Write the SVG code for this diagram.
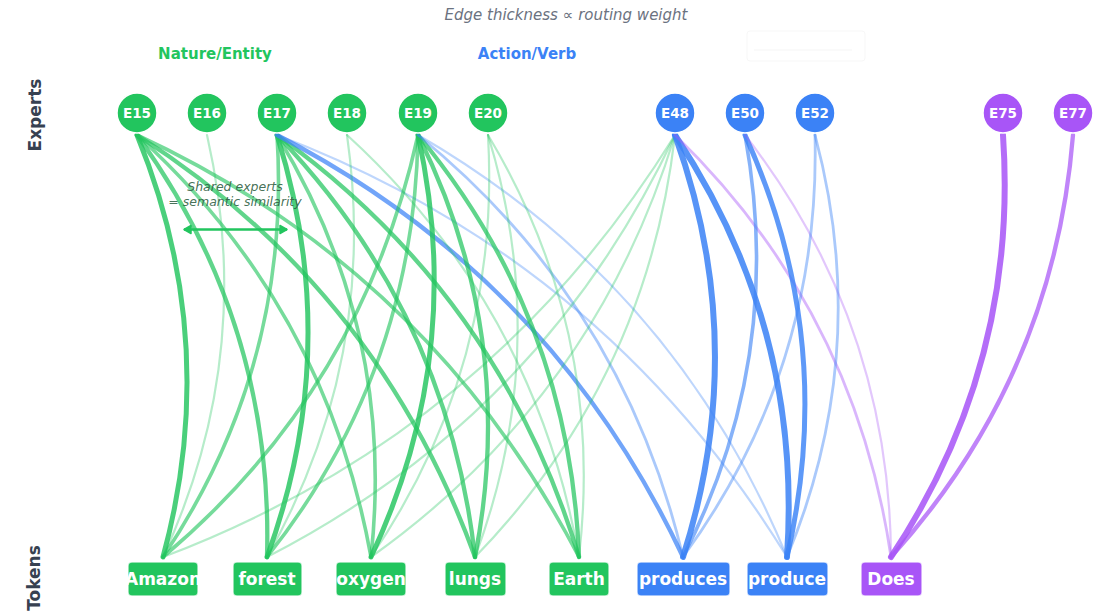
<svg xmlns="http://www.w3.org/2000/svg" width="1097" height="615" viewBox="0 0 1097 615">
  <defs>
    <style>
      .title { font-family: "DejaVu Sans", "Liberation Sans", sans-serif; font-style: italic; font-size: 15px; fill: #6b7280; }
      .group { font-family: "DejaVu Sans", "Liberation Sans", sans-serif; font-weight: bold; font-size: 15px; }
      .axis { font-family: "DejaVu Sans", "Liberation Sans", sans-serif; font-weight: bold; font-size: 17px; fill: #374151; }
      .note { font-family: "DejaVu Sans", "Liberation Sans", sans-serif; font-style: italic; font-size: 12.5px; fill: #2f5f44; fill-opacity: 0.9; }
      .enode circle { stroke: #ffffff; stroke-width: 1.5; }
      .enode text { font-family: "DejaVu Sans", "Liberation Sans", sans-serif; font-weight: bold; font-size: 13.5px; fill: #ffffff; text-anchor: middle; }
      .tnode rect { stroke: #ffffff; stroke-opacity: 0.7; stroke-width: 1.5; }
      .tnode text { font-family: "DejaVu Sans", "Liberation Sans", sans-serif; font-weight: bold; font-size: 17px; fill: #ffffff; text-anchor: middle; }
      .green { fill: #22c55e; }
      .blue { fill: #3b82f6; }
      .purple { fill: #a855f7; }
      #edges path { fill: none; stroke-linecap: round; }
      .eg { stroke: #22c55e; }
      .eb { stroke: #3b82f6; }
      .ep { stroke: #a855f7; }
      .w1 { stroke-width: 2.2; stroke-opacity: 0.33; }
      .w2 { stroke-width: 2.8; stroke-opacity: 0.43; }
      .w3 { stroke-width: 3.6; stroke-opacity: 0.62; }
      .w4 { stroke-width: 4.3; stroke-opacity: 0.72; }
      .w5 { stroke-width: 5; stroke-opacity: 0.82; }
      .w6 { stroke-width: 6; stroke-opacity: 0.86; }
    </style>
    <marker id="tip" viewBox="-10 -6 12 12" markerWidth="12" markerHeight="12" refX="0" refY="0" orient="auto-start-reverse" markerUnits="userSpaceOnUse">
      <path d="M-7,-4 L0,0 L-7,4 Z" fill="#22c55e" stroke="#22c55e" stroke-width="1.5" stroke-linejoin="round"/>
    </marker>
  </defs>

  <rect width="1097" height="615" fill="#ffffff"/>

  <!-- headings -->
  <text class="title" x="566" y="20" text-anchor="middle">Edge thickness ∝ routing weight</text>
  <text class="group" x="215" y="59" text-anchor="middle" fill="#22c55e">Nature/Entity</text>
  <text class="group" x="527" y="59" text-anchor="middle" fill="#3b82f6">Action/Verb</text>
  <text class="axis" transform="translate(41,115) rotate(-90)" text-anchor="middle">Experts</text>
  <text class="axis" transform="translate(40,578) rotate(-90)" text-anchor="middle">Tokens</text>

  <!-- empty legend frame -->
  <rect x="747" y="31" width="118" height="30" rx="3" fill="#ffffff" stroke="#f7f7f7" stroke-width="1"/>
  <line x1="754" y1="50" x2="852" y2="50" stroke="#f8f8f8" stroke-width="1.5"/>

  <!-- routing connectors (quadratic arcs, expert -> token) -->
  <g id="edges">
    <!-- E15 -->
    <path class="eg w5" d="M137,135 Q221.7,341.6 163,557"/>
    <path class="eg w4" d="M137,135 Q273.7,323.9 267,557"/>
    <path class="eg w3" d="M137,135 Q325.7,306.2 371,557"/>
    <path class="eg w4" d="M137,135 Q377.7,288.5 475,557"/>
    <path class="eg w3" d="M137,135 Q429.7,270.9 579,557"/>
    <!-- E16 -->
    <path class="eg w1" d="M207,135 Q256.7,353.5 163,557"/>
    <!-- E17 -->
    <path class="eg w3" d="M277,135 Q291.7,365.4 163,557"/>
    <path class="eg w5" d="M277,135 Q343.7,347.7 267,557"/>
    <path class="eg w3" d="M277,135 Q395.7,330 371,557"/>
    <path class="eg w4" d="M277,135 Q447.7,312.3 475,557"/>
    <path class="eg w4" d="M277,135 Q499.7,294.7 579,557"/>
    <path class="eb w4" d="M277,135 Q551.7,277 683,557"/>
    <path class="eb w1" d="M277,135 Q603.7,259.3 787,557"/>
    <!-- E18 -->
    <path class="eg w1" d="M347,135 Q378.7,359.6 267,557"/>
    <path class="eg w1" d="M347,135 Q534.7,306.6 579,557"/>
    <!-- E19 -->
    <path class="eg w3" d="M418,135 Q362.2,389.4 163,557"/>
    <path class="eg w3" d="M418,135 Q414.2,371.7 267,557"/>
    <path class="eg w5" d="M418,135 Q466.2,354 371,557"/>
    <path class="eg w4" d="M418,135 Q518.2,336.3 475,557"/>
    <path class="eg w4" d="M418,135 Q570.2,318.6 579,557"/>
    <path class="eb w2" d="M418,135 Q622.2,301 683,557"/>
    <path class="eb w1" d="M418,135 Q674.2,283.3 787,557"/>
    <!-- E20 -->
    <path class="eg w1" d="M488,135 Q501.2,365.9 371,557"/>
    <path class="eg w1" d="M488,135 Q553.2,348.2 475,557"/>
    <path class="eg w1" d="M488,135 Q605.2,330.5 579,557"/>
    <!-- E48 -->
    <path class="eg w1" d="M675,135 Q490.7,433 163,557"/>
    <path class="eg w1" d="M675,135 Q542.7,415.4 267,557"/>
    <path class="eg w1" d="M675,135 Q594.7,397.7 371,557"/>
    <path class="eg w1" d="M675,135 Q646.7,380 475,557"/>
    <path class="eb w6" d="M675,135 Q750.7,344.6 683,557"/>
    <path class="eb w6" d="M675,135 Q802.7,327 787,557"/>
    <path class="ep w2" d="M675,135 Q854.7,309.3 891,557"/>
    <!-- E50 -->
    <path class="eb w3" d="M745,135 Q785.7,356.5 683,557"/>
    <path class="eb w5" d="M745,135 Q837.7,338.9 787,557"/>
    <path class="ep w1" d="M745,135 Q889.7,321.2 891,557"/>
    <!-- E52 -->
    <path class="eb w2" d="M815,135 Q820.7,368.4 683,557"/>
    <path class="eb w2" d="M815,135 Q872.7,350.8 787,557"/>
    <!-- E75 / E77 -->
    <path class="ep w6" d="M1003,135 Q1018.7,365 891,557"/>
    <path class="ep w4" d="M1073,135 Q1053.7,376.9 891,557"/>
  </g>

  <!-- annotation -->
  <text class="note" x="235" y="191" text-anchor="middle">Shared experts</text>
  <text class="note" x="235" y="206" text-anchor="middle">= semantic similarity</text>
  <path d="M184,229.5 L287,229.5" stroke="#22c55e" stroke-width="2.5" marker-start="url(#tip)" marker-end="url(#tip)"/>

  <!-- experts -->
  <g id="E15" class="enode"><circle class="green" cx="137" cy="113" r="20"/><text x="137" y="118">E15</text></g>
  <g id="E16" class="enode"><circle class="green" cx="207" cy="113" r="20"/><text x="207" y="118">E16</text></g>
  <g id="E17" class="enode"><circle class="green" cx="277" cy="113" r="20"/><text x="277" y="118">E17</text></g>
  <g id="E18" class="enode"><circle class="green" cx="347" cy="113" r="20"/><text x="347" y="118">E18</text></g>
  <g id="E19" class="enode"><circle class="green" cx="418" cy="113" r="20"/><text x="418" y="118">E19</text></g>
  <g id="E20" class="enode"><circle class="green" cx="488" cy="113" r="20"/><text x="488" y="118">E20</text></g>
  <g id="E48" class="enode"><circle class="blue" cx="675" cy="113" r="20"/><text x="675" y="118">E48</text></g>
  <g id="E50" class="enode"><circle class="blue" cx="745" cy="113" r="20"/><text x="745" y="118">E50</text></g>
  <g id="E52" class="enode"><circle class="blue" cx="815" cy="113" r="20"/><text x="815" y="118">E52</text></g>
  <g id="E75" class="enode"><circle class="purple" cx="1003" cy="113" r="20"/><text x="1003" y="118">E75</text></g>
  <g id="E77" class="enode"><circle class="purple" cx="1073" cy="113" r="20"/><text x="1073" y="118">E77</text></g>

  <!-- tokens -->
  <g id="tok-Amazon" class="tnode"><rect class="green" x="128" y="562" width="70" height="34" rx="4"/><text x="163" y="585">Amazon</text></g>
  <g id="tok-forest" class="tnode"><rect class="green" x="233" y="562" width="69" height="34" rx="4"/><text x="267" y="585">forest</text></g>
  <g id="tok-oxygen" class="tnode"><rect class="green" x="336" y="562" width="70" height="34" rx="4"/><text x="371" y="585">oxygen</text></g>
  <g id="tok-lungs" class="tnode"><rect class="green" x="445" y="562" width="61" height="34" rx="4"/><text x="475" y="585">lungs</text></g>
  <g id="tok-Earth" class="tnode"><rect class="green" x="549" y="562" width="60" height="34" rx="4"/><text x="579" y="585">Earth</text></g>
  <g id="tok-produces" class="tnode"><rect class="blue" x="637" y="562" width="93" height="34" rx="4"/><text x="683" y="585">produces</text></g>
  <g id="tok-produce" class="tnode"><rect class="blue" x="747" y="562" width="81" height="34" rx="4"/><text x="787" y="585">produce</text></g>
  <g id="tok-Does" class="tnode"><rect class="purple" x="861" y="562" width="61" height="34" rx="4"/><text x="891" y="585">Does</text></g>
</svg>
